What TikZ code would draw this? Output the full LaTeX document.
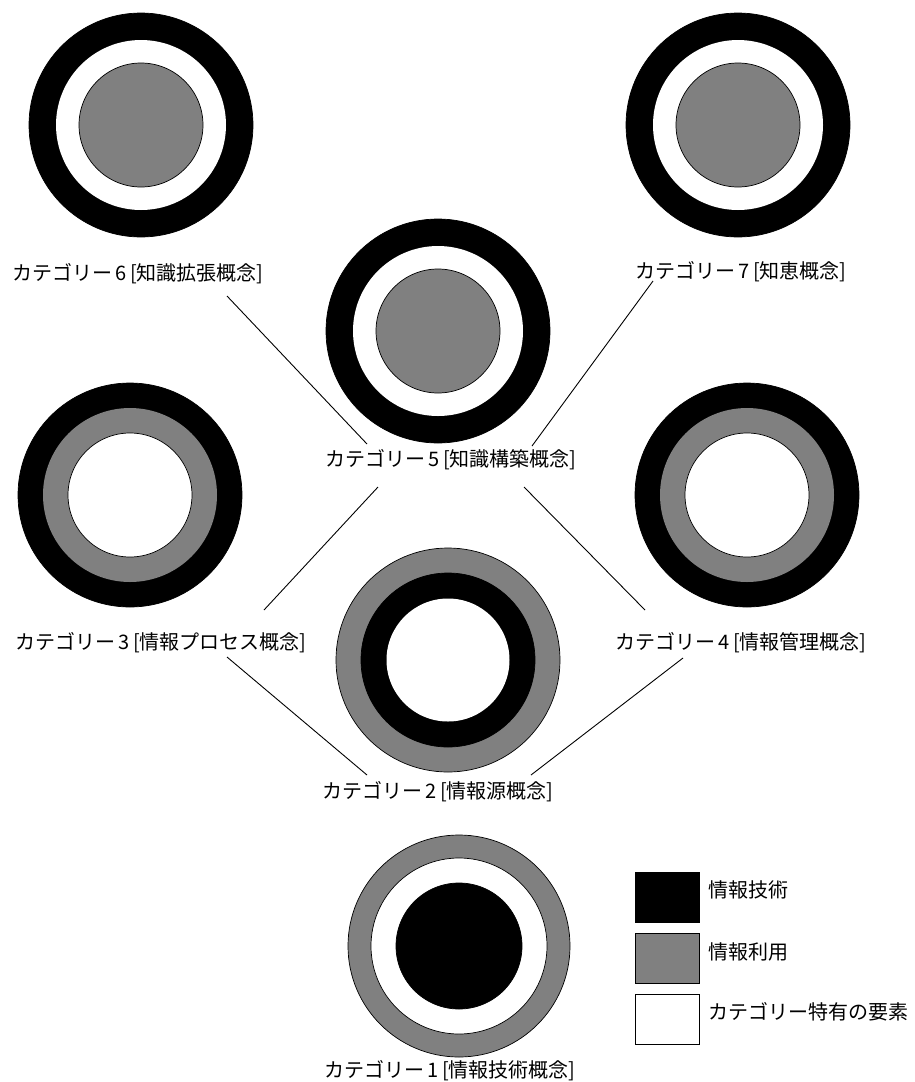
\documentclass[tikz,border=0pt]{standalone}
\usepackage{fontspec}
\newfontfamily\cjk{Noto Sans CJK JP}
\begin{document}
\begin{tikzpicture}[x=1pt,y=-1pt,
  disc/.style={circle,inner sep=0pt,draw=black,line width=0.7pt},
  blk/.style={disc,fill=black},
  gry/.style={disc,fill=gray},
  wht/.style={disc,fill=white},
  lab/.style={inner sep=0pt,font=\cjk\fontsize{20}{24}\selectfont},
  leg/.style={inner sep=0pt,anchor=west,font=\cjk\fontsize{20}{24}\selectfont},
  box/.style={draw=black,line width=0.8pt,minimum width=64pt,minimum height=50pt,inner sep=0pt},
  con/.style={line width=0.9pt}]
\useasboundingbox (0,0) rectangle (915,1082);
% category 6
\node[blk,minimum size=224pt] (c6) at (141,125) {};
\node[wht,draw=none,minimum size=170pt] (c6m) at (c6) {};
\node[gry,minimum size=124pt] (c6i) at (c6) {};
% category 7
\node[blk,minimum size=224pt] (c7) at (738,125) {};
\node[wht,draw=none,minimum size=170pt] (c7m) at (c7) {};
\node[gry,minimum size=124pt] (c7i) at (c7) {};
% category 5
\node[blk,minimum size=224pt] (c5) at (438,331) {};
\node[wht,draw=none,minimum size=170pt] (c5m) at (c5) {};
\node[gry,minimum size=124pt] (c5i) at (c5) {};
% category 3
\node[blk,minimum size=224pt] (c3) at (130,495) {};
\node[gry,draw=none,minimum size=174pt] (c3m) at (c3) {};
\node[wht,minimum size=124pt] (c3i) at (c3) {};
% category 4
\node[blk,minimum size=224pt] (c4) at (747,495) {};
\node[gry,draw=none,minimum size=174pt] (c4m) at (c4) {};
\node[wht,minimum size=124pt] (c4i) at (c4) {};
% category 2
\node[gry,minimum size=224pt] (c2) at (448,660) {};
\node[blk,minimum size=174pt] (c2m) at (c2) {};
\node[wht,draw=none,minimum size=123pt] (c2i) at (c2) {};
% category 1
\node[gry,minimum size=222pt] (c1) at (459,946) {};
\node[wht,minimum size=176pt] (c1m) at (c1) {};
\node[blk,minimum size=126pt] (c1i) at (c1) {};
% labels
\node[lab] (l6) at (138,274) {カテゴリー\,6\,[知識拡張概念]};
\node[lab] (l7) at (741,272) {カテゴリー\,7\,[知恵概念]};
\node[lab] (l5) at (451,460) {カテゴリー\,5\,[知識構築概念]};
\node[lab] (l3) at (161,643) {カテゴリー\,3\,[情報プロセス概念]};
\node[lab] (l4) at (741,643) {カテゴリー\,4\,[情報管理概念]};
\node[lab] (l2) at (438,792) {カテゴリー\,2\,[情報源概念]};
\node[lab] (l1) at (450,1071) {カテゴリー\,1\,[情報技術概念]};
% connector ends
\coordinate (e6a) at (227,296);
\coordinate (e5a) at (367,444);
\coordinate (e7a) at (653,281);
\coordinate (e5b) at (532,446);
\coordinate (e5c) at (378,487);
\coordinate (e3a) at (264,610);
\coordinate (e5d) at (524,487);
\coordinate (e4a) at (645,610);
\coordinate (e3b) at (227,657);
\coordinate (e2a) at (367,775);
\coordinate (e4b) at (683,658);
\coordinate (e2b) at (531,775);
\draw[con] (e6a) -- (e5a);
\draw[con] (e7a) -- (e5b);
\draw[con] (e5c) -- (e3a);
\draw[con] (e5d) -- (e4a);
\draw[con] (e3b) -- (e2a);
\draw[con] (e4b) -- (e2b);
% legend
\node[box,fill=black] (k1) at (667,897) {};
\node[box,fill=gray] (k2) at (667,958) {};
\node[box,fill=white] (k3) at (667,1019) {};
\node[leg] (t1) at (708,890) {情報技術};
\node[leg] (t2) at (708,952) {情報利用};
\node[leg] (t3) at (708,1012) {カテゴリー特有の要素};
\end{tikzpicture}
\end{document}
